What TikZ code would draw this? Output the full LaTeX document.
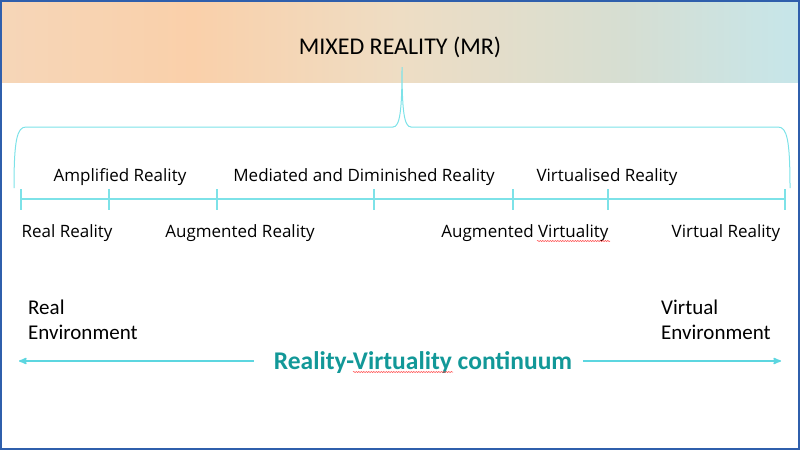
\documentclass[tikz,border=0pt]{standalone}
\usepackage{fontspec}
\setmainfont{Carlito}
\newfontfamily\uifont{Open Sans}
\usetikzlibrary{positioning, arrows, decorations.pathmorphing}
\definecolor{bracecyan}{RGB}{125,226,232}
\definecolor{arrowcyan}{RGB}{92,214,224}
\definecolor{contteal}{RGB}{18,152,152}
\definecolor{frameblue}{RGB}{47,95,172}
\definecolor{peachA}{RGB}{246,214,184}
\definecolor{peachB}{RGB}{250,208,170}
\definecolor{beige}{RGB}{238,221,196}
\definecolor{greyteal}{RGB}{214,222,210}
\definecolor{cyanL}{RGB}{198,230,234}
\pgfdeclarehorizontalshading{banner}{100bp}{color(0bp)=(peachA); color(25bp)=(peachA); color(37bp)=(peachB); color(50bp)=(beige); color(64bp)=(greyteal); color(75bp)=(cyanL); color(100bp)=(cyanL)}
\tikzset {
    x=1pt, y=-1pt,
    >=stealth',
    scale line/.style={draw=bracecyan, line width=1.3pt},
    upper label/.style={font=\uifont\fontsize{17}{20}\selectfont, anchor=base, inner sep=0pt},
    lower label/.style={font=\uifont\fontsize{17}{20}\selectfont, anchor=base, inner sep=0pt},
    env label/.style={font=\fontsize{21}{25}\selectfont, align=left, anchor=north west, inner sep=0pt},
    spell mark/.style={draw=red!75, line width=0.5pt, decorate, decoration={snake, amplitude=0.6pt, segment length=2.5pt}}
}

\begin{document}
\begin{tikzpicture}
    \useasboundingbox (0,0) rectangle (800,450);
    \fill[shading=banner] (0,0) rectangle (800,82);

    \node[font=\fontsize{24}{28}\selectfont, anchor=base] (mr) at (400,54) {MIXED REALITY (MR)};

    % brace under the title
    \draw[scale line, line width=1pt]
        (14,188) .. controls (14,140) and (17,127) .. (26,127) -- (393,127)
        .. controls (400,127) and (402,110) .. (402,67)
        .. controls (402,110) and (404,127) .. (411,127) -- (778,127)
        .. controls (787,127) and (790,140) .. (790,188);

    % scale
    \coordinate (t1) at (21,199);
    \coordinate (t2) at (109,199);
    \coordinate (t3) at (217,199);
    \coordinate (t4) at (374,199);
    \coordinate (t5) at (513,199);
    \coordinate (t6) at (608,199);
    \coordinate (t7) at (785,199);
    \draw[scale line] (t1) -- (t7);
    \draw[scale line]
        ([yshift=10pt]t1) -- ([yshift=-11pt]t1)
        ([yshift=10pt]t2) -- ([yshift=-11pt]t2)
        ([yshift=10pt]t3) -- ([yshift=-11pt]t3)
        ([yshift=10pt]t4) -- ([yshift=-11pt]t4)
        ([yshift=10pt]t5) -- ([yshift=-11pt]t5)
        ([yshift=10pt]t6) -- ([yshift=-11pt]t6)
        ([yshift=10pt]t7) -- ([yshift=-11pt]t7);

    \node[upper label] (amp) at (120,181) {Amplified Reality};
    \node[upper label] (med) at (364,181) {Mediated and Diminished Reality};
    \node[upper label] (virt) at (607,181) {Virtualised Reality};

    \node[lower label] (real) at (67,237) {Real Reality};
    \node[lower label] (ar) at (240,237) {Augmented Reality};
    \node[lower label] (av) at (525,237) {Augmented Virtuality};
    \node[lower label] (vr) at (726,237) {Virtual Reality};
    \draw[spell mark] (537,241) -- (610,241);

    % continuum
    \node[env label] (renv) at (28,300) {Real\\Environment};
    \node[env label] (venv) at (661,300) {Virtual\\Environment};

    \coordinate (arrL) at (19,361);
    \coordinate (arrR) at (781,361);
    \node[font=\bfseries\fontsize{25.5}{30}\selectfont, text=contteal, anchor=base, inner sep=0pt] (cont) at (423,369) {Reality-Virtuality continuum};
    \draw[spell mark] (353,372) -- (453,372);
    \draw[->, draw=arrowcyan, line width=1.6pt] ([xshift=-20pt]arrL -| cont.west) -- (arrL);
    \draw[->, draw=arrowcyan, line width=1.6pt] ([xshift=11pt]arrR -| cont.east) -- (arrR);

    \draw[draw=frameblue, line width=1.5pt] (1,1) rectangle (799,449);
\end{tikzpicture}
\end{document}
